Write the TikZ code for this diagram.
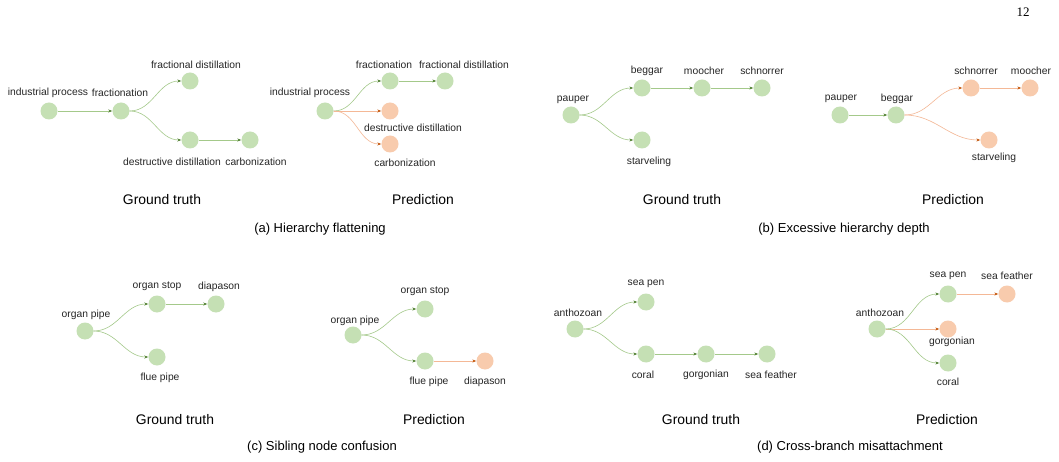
\documentclass[tikz,border=0pt]{standalone}
\usepackage{fontspec}
\setmainfont{Liberation Sans}
\newfontfamily\pagenumfont{Liberation Serif}
\usepackage{xcolor}
\usetikzlibrary{arrows.meta}
\definecolor{nodegreen}{HTML}{C5E0B4}
\definecolor{nodeorange}{HTML}{F8CBAD}
\definecolor{linegreen}{HTML}{A4C98A}
\definecolor{tipgreen}{HTML}{548235}
\definecolor{lineorange}{HTML}{F4B896}
\definecolor{tiporange}{HTML}{C55A11}
\definecolor{textgray}{HTML}{262626}

\tikzset{
  gnode/.style={circle,fill=nodegreen,minimum size=17pt,inner sep=0pt},
  onode/.style={circle,fill=nodeorange,minimum size=17pt,inner sep=0pt},
  gedge/.style={draw=linegreen,line width=0.6pt,-{Stealth[length=4pt,width=3pt,color=tipgreen]}},
  oedge/.style={draw=lineorange,line width=0.6pt,-{Stealth[length=4pt,width=3pt,color=tiporange]}},
  lbl/.style={text=textgray,inner sep=0pt,font=\fontsize{10.3}{12}\selectfont},
  subtext/.style={text=black,inner sep=0pt,font=\fontsize{13.9}{16}\selectfont},
  captext/.style={text=black,inner sep=0pt,font=\fontsize{13}{15}\selectfont},
}

\begin{document}
\begin{tikzpicture}[x=1pt,y=-1pt]
  \useasboundingbox[fill=white] (0,0) rectangle (1059,462);
  \node[font=\pagenumfont\fontsize{13}{15}\selectfont,inner sep=0pt] (pnum) at (1023,12) {12};

  % (a) ground truth
  \node[gnode] (agind) at (49,111) {};
  \node[gnode] (agfra) at (121,111) {};
  \node[gnode] (agfdi) at (190,81) {};
  \node[gnode] (agddi) at (190,140) {};
  \node[gnode] (agcar) at (250,140) {};
  \node[lbl] at (48,93) {industrial process};
  \node[lbl] at (120,93) {fractionation};
  \node[lbl] at (196,65) {fractional distillation};
  \node[lbl] at (172,162) {destructive distillation};
  \node[lbl] at (256,162) {carbonization};
  \draw[gedge] (agind) -- (agfra);
  \draw[gedge] (agfra.east) to[out=0,in=180] (agfdi.west);
  \draw[gedge] (agfra.east) to[out=0,in=180] (agddi.west);
  \draw[gedge] (agddi) -- (agcar);

  % (a) prediction
  \node[gnode] (apind) at (325,111) {};
  \node[gnode] (apfra) at (390,81) {};
  \node[gnode] (apfdi) at (445,81) {};
  \node[onode] (apddi) at (390,111) {};
  \node[onode] (apcar) at (390,144) {};
  \node[lbl] at (310,93) {industrial process};
  \node[lbl] at (384,65) {fractionation};
  \node[lbl] at (464,65) {fractional distillation};
  \node[lbl] at (413,128) {destructive distillation};
  \node[lbl] at (405,163) {carbonization};
  \draw[gedge] (apind.east) to[out=0,in=180] (apfra.west);
  \draw[gedge] (apfra) -- (apfdi);
  \draw[oedge] (apind) -- (apddi);
  \draw[oedge] (apind.east) to[out=0,in=180] (apcar.west);

  \node[subtext] (agsub) at (162,200) {Ground truth};
  \node[subtext] (apsub) at (423,200) {Prediction};
  \node[captext] (acap) at (320,229) {(a) Hierarchy flattening};

  % (b) ground truth
  \node[gnode] (bgpau) at (571,115) {};
  \node[gnode] (bgbeg) at (642,88) {};
  \node[gnode] (bgmoo) at (702,88) {};
  \node[gnode] (bgsch) at (762,88) {};
  \node[gnode] (bgsta) at (642,140) {};
  \node[lbl] at (573,100) {pauper};
  \node[lbl] at (647,71) {beggar};
  \node[lbl] at (704,71) {moocher};
  \node[lbl] at (762,71) {schnorrer};
  \node[lbl] at (649,162) {starveling};
  \draw[gedge] (bgpau.east) to[out=0,in=180] (bgbeg.west);
  \draw[gedge] (bgpau.east) to[out=0,in=180] (bgsta.west);
  \draw[gedge] (bgbeg) -- (bgmoo);
  \draw[gedge] (bgmoo) -- (bgsch);

  % (b) prediction
  \node[gnode] (bppau) at (840,115) {};
  \node[gnode] (bpbeg) at (896,115) {};
  \node[onode] (bpsch) at (971,88) {};
  \node[onode] (bpmoo) at (1030,88) {};
  \node[onode] (bpsta) at (989,140) {};
  \node[lbl] at (841,99) {pauper};
  \node[lbl] at (897,99) {beggar};
  \node[lbl] at (976,71) {schnorrer};
  \node[lbl] at (1031,71) {moocher};
  \node[lbl] at (994,158) {starveling};
  \draw[gedge] (bppau) -- (bpbeg);
  \draw[oedge] (bpbeg.east) to[out=0,in=180] (bpsch.west);
  \draw[oedge] (bpsch) -- (bpmoo);
  \draw[oedge] (bpbeg.east) to[out=0,in=180] (bpsta.west);

  \node[subtext] (bgsub) at (682,200) {Ground truth};
  \node[subtext] (bpsub) at (953,200) {Prediction};
  \node[captext] (bcap) at (844,229) {(b) Excessive hierarchy depth};

  % (c) ground truth
  \node[gnode] (cgopi) at (85,331) {};
  \node[gnode] (cgost) at (157,304) {};
  \node[gnode] (cgdia) at (216,304) {};
  \node[gnode] (cgflu) at (157,357) {};
  \node[lbl] at (86,315) {organ pipe};
  \node[lbl] at (157,286) {organ stop};
  \node[lbl] at (219,287) {diapason};
  \node[lbl] at (160,378) {flue pipe};
  \draw[gedge] (cgopi.east) to[out=0,in=180] (cgost.west);
  \draw[gedge] (cgopi.east) to[out=0,in=180] (cgflu.west);
  \draw[gedge] (cgost) -- (cgdia);

  % (c) prediction
  \node[gnode] (cpopi) at (353,335) {};
  \node[gnode] (cpost) at (425,309) {};
  \node[gnode] (cpflu) at (425,361) {};
  \node[onode] (cpdia) at (485,361) {};
  \node[lbl] at (355,321) {organ pipe};
  \node[lbl] at (425,291) {organ stop};
  \node[lbl] at (429,382) {flue pipe};
  \node[lbl] at (485,382) {diapason};
  \draw[gedge] (cpopi.east) to[out=0,in=180] (cpost.west);
  \draw[gedge] (cpopi.east) to[out=0,in=180] (cpflu.west);
  \draw[oedge] (cpflu) -- (cpdia);

  \node[subtext] (cgsub) at (175,420) {Ground truth};
  \node[subtext] (cpsub) at (434,420) {Prediction};
  \node[captext] (ccap) at (322,447) {(c) Sibling node confusion};

  % (d) ground truth
  \node[gnode] (dgant) at (575,329) {};
  \node[gnode] (dgpen) at (646,302) {};
  \node[gnode] (dgcor) at (646,354) {};
  \node[gnode] (dggor) at (706,354) {};
  \node[gnode] (dgfea) at (767,354) {};
  \node[lbl] at (578,313) {anthozoan};
  \node[lbl] at (646,284) {sea pen};
  \node[lbl] at (643,375) {coral};
  \node[lbl] at (706,375) {gorgonian};
  \node[lbl] at (771,375) {sea feather};
  \draw[gedge] (dgant.east) to[out=0,in=180] (dgpen.west);
  \draw[gedge] (dgant.east) to[out=0,in=180] (dgcor.west);
  \draw[gedge] (dgcor) -- (dggor);
  \draw[gedge] (dggor) -- (dgfea);

  % (d) prediction
  \node[gnode] (dpant) at (877,329) {};
  \node[gnode] (dppen) at (948,294) {};
  \node[onode] (dpfea) at (1007,294) {};
  \node[onode] (dpgor) at (948,329) {};
  \node[gnode] (dpcor) at (948,363) {};
  \node[lbl] at (880,313) {anthozoan};
  \node[lbl] at (948,276) {sea pen};
  \node[lbl] at (1007,276) {sea feather};
  \node[lbl] at (952,342) {gorgonian};
  \node[lbl] at (948,382) {coral};
  \draw[gedge] (dpant.east) to[out=0,in=180] (dppen.west);
  \draw[oedge] (dppen) -- (dpfea);
  \draw[oedge] (dpant) -- (dpgor);
  \draw[gedge] (dpant.east) to[out=0,in=180] (dpcor.west);

  \node[subtext] (dgsub) at (701,420) {Ground truth};
  \node[subtext] (dpsub) at (947,420) {Prediction};
  \node[captext] (dcap) at (850,447) {(d) Cross-branch misattachment};
\end{tikzpicture}
\end{document}
